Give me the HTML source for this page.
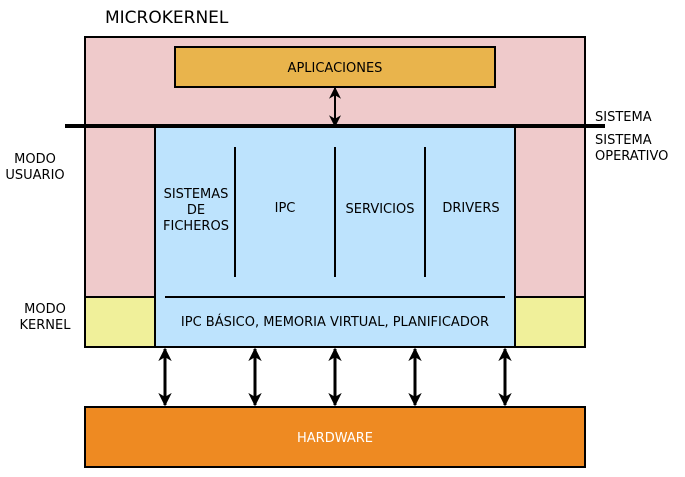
<!DOCTYPE html>
<html><head><meta charset="utf-8"><style>body{margin:0;background:#fff}svg{display:block}text{font-family:"DejaVu Sans","Liberation Sans",sans-serif;fill:#000}</style></head>
<body>
<svg width="685" height="477" viewBox="0 0 685 477" xmlns="http://www.w3.org/2000/svg">
<defs>
<marker id="a" viewBox="0 0 10 10" refX="9" refY="5" markerWidth="4.5" markerHeight="4.5" orient="auto-start-reverse"><path d="M0,0 L10,5 L0,10 L3,5 z" fill="#000"/></marker>
<marker id="b" viewBox="0 0 10 10" refX="9" refY="5" markerWidth="6" markerHeight="6" orient="auto-start-reverse"><path d="M0,0 L10,5 L0,10 L3,5 z" fill="#000"/></marker>
</defs>
<text x="105" y="23" font-size="17">MICROKERNEL</text>
<rect x="85" y="37" width="500" height="310" fill="#efcacb" stroke="#000" stroke-width="2"/>
<rect x="85" y="297" width="500" height="50" fill="#f0f09a" stroke="#000" stroke-width="2"/>
<rect x="155" y="127" width="360" height="220" fill="#bde3fd" stroke="#000" stroke-width="2"/>
<rect x="175" y="47" width="320" height="40" fill="#e9b44c" stroke="#000" stroke-width="2"/>
<text x="335" y="72" font-size="13" text-anchor="middle">APLICACIONES</text>
<line x1="335" y1="88" x2="335" y2="126" stroke="#000" stroke-width="2" marker-start="url(#b)" marker-end="url(#b)"/>
<line x1="65" y1="126" x2="605" y2="126" stroke="#000" stroke-width="4"/>
<line x1="235" y1="147" x2="235" y2="277" stroke="#000" stroke-width="2"/>
<line x1="335" y1="147" x2="335" y2="277" stroke="#000" stroke-width="2"/>
<line x1="425" y1="147" x2="425" y2="277" stroke="#000" stroke-width="2"/>
<line x1="165" y1="297" x2="505" y2="297" stroke="#000" stroke-width="2"/>
<g font-size="13" text-anchor="middle">
<text x="196" y="198">SISTEMAS</text><text x="196" y="214">DE</text><text x="196" y="230">FICHEROS</text>
<text x="285" y="212">IPC</text>
<text x="380" y="213">SERVICIOS</text>
<text x="471" y="212">DRIVERS</text>
<text x="335" y="326">IPC BÁSICO, MEMORIA VIRTUAL, PLANIFICADOR</text>
<text x="35" y="163">MODO</text><text x="35" y="179">USUARIO</text>
<text x="45" y="313">MODO</text><text x="45" y="329">KERNEL</text>
</g>
<g font-size="13">
<text x="595" y="121">SISTEMA</text>
<text x="595" y="144">SISTEMA</text><text x="595" y="160">OPERATIVO</text>
</g>
<g stroke="#000" stroke-width="3">
<line x1="165" y1="349" x2="165" y2="405" marker-start="url(#a)" marker-end="url(#a)"/>
<line x1="255" y1="349" x2="255" y2="405" marker-start="url(#a)" marker-end="url(#a)"/>
<line x1="335" y1="349" x2="335" y2="405" marker-start="url(#a)" marker-end="url(#a)"/>
<line x1="415" y1="349" x2="415" y2="405" marker-start="url(#a)" marker-end="url(#a)"/>
<line x1="505" y1="349" x2="505" y2="405" marker-start="url(#a)" marker-end="url(#a)"/>
</g>
<rect x="85" y="407" width="500" height="60" fill="#ee8a22" stroke="#000" stroke-width="2"/>
<text x="335" y="442" font-size="13" text-anchor="middle" style="fill:#fff">HARDWARE</text>
</svg>
</body></html>
